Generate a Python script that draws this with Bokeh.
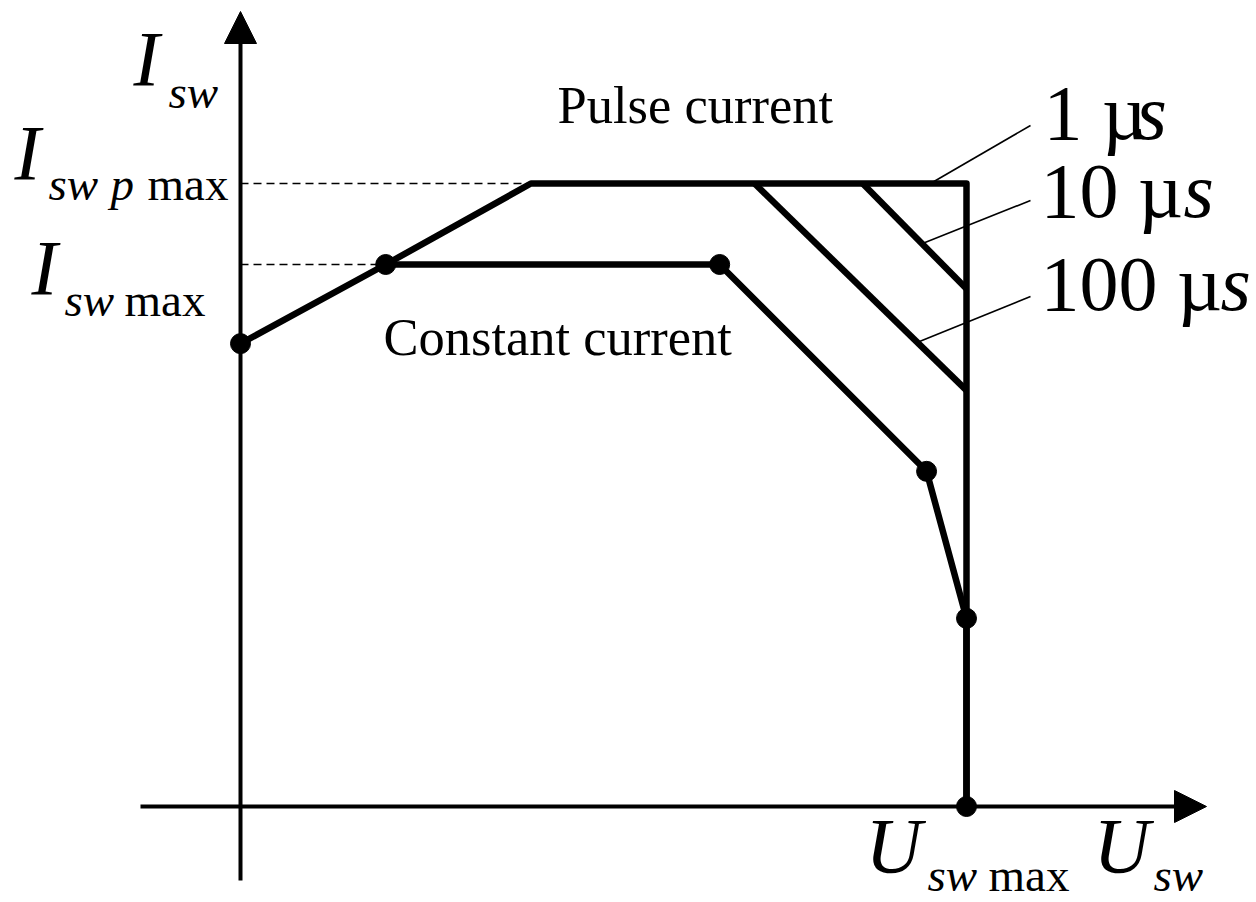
from bokeh.plotting import figure
from bokeh.models import Range1d, Arrow, NormalHead
from bokeh.core.properties import value
from bokeh.embed import file_html
from bokeh.resources import INLINE

# ---- data (U in % of U_sw max, I in % of I_sw p max) ----
dc_u = [0, 20, 66, 94.5, 100, 100]
dc_i = [74.3, 87, 87, 53.8, 30.2, 0]
pulse1_u = [20, 40, 100, 100]
pulse1_i = [87, 100, 100, 0]
pulse10_u = [85.7, 100]
pulse10_i = [100, 83.1]
pulse100_u = [70.8, 100]
pulse100_i = [100, 66.8]
i_max = 87
i_pmax = 100

# ---- layout helpers (pixel -> data) ----
X0, Y0, SX, SY = 240.0, 806.0, 7.26, 6.23
def ux(px):
    return (px - X0) / SX
def iy(py):
    return (Y0 - py) / SY

W, H = 1256, 900
p = figure(width=W, height=H, output_backend="svg", toolbar_location=None,
           x_range=Range1d(ux(0), ux(W)), y_range=Range1d(iy(H), iy(0)),
           min_border=0)
p.axis.visible = False
p.grid.visible = False
p.outline_line_color = None
p.background_fill_color = "white"

# axes with arrows
p.add_layout(Arrow(end=NormalHead(size=32, fill_color="black", line_color="black"),
                   x_start=0, y_start=iy(880), x_end=0, y_end=iy(11),
                   line_width=4, line_color="black"))
p.add_layout(Arrow(end=NormalHead(size=32, fill_color="black", line_color="black"),
                   x_start=ux(140), y_start=0, x_end=ux(1206), y_end=0,
                   line_width=4, line_color="black"))

# dashed guides
p.segment(x0=[0, 0], y0=[i_pmax, i_max], x1=[pulse1_u[1], dc_u[1]], y1=[i_pmax, i_max],
          line_color="black", line_width=1.4, line_dash="8 5")

# leader lines
p.segment(x0=[ux(930), ux(922), ux(919)], y0=[iy(183), iy(243), iy(341)],
          x1=[ux(1030), ux(1030), ux(1030)], y1=[iy(125), iy(200), iy(296)],
          line_color="black", line_width=1.6)

# curves
p.line(pulse1_u, pulse1_i, line_color="black", line_width=6.5, line_join="round")
p.line(pulse10_u, pulse10_i, line_color="black", line_width=6.5)
p.line(pulse100_u, pulse100_i, line_color="black", line_width=6.5)
p.line(dc_u, dc_i, line_color="black", line_width=6.5, line_join="round")
p.scatter(dc_u, dc_i, size=20, color="black")

# texts: (left px, baseline px, text, size px, style)
pieces = [
    (133, 88, "I", 78, "italic"), (168, 110, "sw", 47, "italic"),
    (14, 182, "I", 78, "italic"), (48, 202, "sw", 47, "italic"),
    (110, 202, "p", 47, "italic"), (147, 202, "max", 47, "normal"),
    (31, 297, "I", 78, "italic"), (64, 318, "sw", 47, "italic"),
    (124, 318, "max", 47, "normal"),
    (557, 125, "Pulse current", 52.5, "normal"),
    (383, 357, "Constant current", 52.5, "normal"),
    (1043, 142, "1 µ", 78, "normal"), (1136, 142, "s", 78, "italic"),
    (1040, 220, "10 µ", 78, "normal"), (1183, 220, "s", 78, "italic"),
    (1040, 313, "100 µ", 78, "normal"), (1220, 313, "s", 78, "italic"),
    (865, 875, "U", 78, "italic"), (927, 893, "sw", 47, "italic"),
    (988, 893, "max", 47, "normal"),
    (1093, 875, "U", 78, "italic"), (1153, 893, "sw", 47, "italic"),
]
SHIFT = 0.385  # compensate renderer's baseline offset (em)
for px, py, t, sz, st in pieces:
    p.text(x=[ux(px)], y=[iy(py - SHIFT * sz)], text=[t], text_font=value("Liberation Serif"),
           text_font_size=value(f"{sz}px"), text_font_style=st,
           text_baseline="alphabetic", text_align="left", text_color="black")

open("out.html", "w").write(file_html(p, INLINE))
